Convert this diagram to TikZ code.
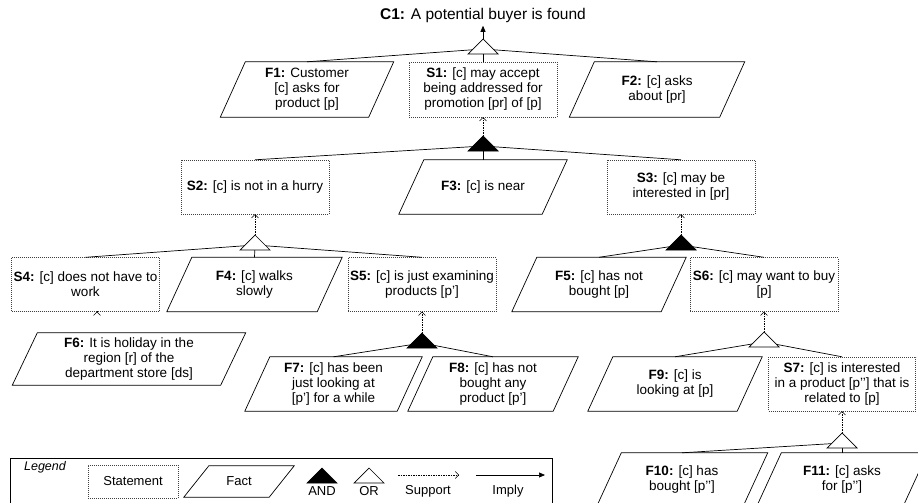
\documentclass[tikz,border=0pt]{standalone}
\usepackage{fontspec}
\setmainfont{Liberation Sans}
\usetikzlibrary{arrows.meta}
\usetikzlibrary{calc}

\newcommand{\factslant}{12.5pt}

\tikzset{
  factslant/.store in=\factslant,
  statement/.style={draw=black!75, dash pattern=on 1pt off 1pt, minimum width=148pt,
    minimum height=54pt, align=center, inner sep=2pt},
  fact/.style={minimum width=#1, minimum height=54pt, align=center, inner sep=2pt,
    append after command={\pgfextra{\let\factnode\tikzlastnode
      \draw[line width=0.7pt] ([xshift=\factslant]\factnode.north west)
        -- ([xshift=\factslant]\factnode.north east)
        -- ([xshift=-\factslant]\factnode.south east)
        -- ([xshift=-\factslant]\factnode.south west) -- cycle;}}},
  fact/.default=148pt,
  link/.style={line width=0.7pt},
  gate/.style={line width=0.7pt},
  support/.style={dash pattern=on 1.5pt off 1pt, -{Straight Barb[length=3.5pt,width=7pt]}},
  imply/.style={line width=0.7pt, -{Triangle[length=6pt,width=5pt]}},
}

\newcommand{\gatetri}[2]{\draw[gate, fill=#2] (#1) -- ++(-15,15) -- ++(30,0) -- cycle;}

\begin{document}
\begin{tikzpicture}[x=1pt, y=-1pt, font=\fontsize{13.5}{15}\selectfont]
    \clip (0,0) rectangle (918,503);

    % claim and first level
    \node[font=\fontsize{15.5}{17}\selectfont] (C1) at (483,15) {\textbf{C1:} A potential buyer is found};
    \node[fact=148pt, minimum height=55pt] (F1) at (307,89.5) {\textbf{F1:} Customer\\{}[c] asks for\\product [p]};
    \node[statement, minimum height=55pt] (S1) at (483,89.5) {\textbf{S1:} [c] may accept\\being addressed for\\promotion [pr] of [p]};
    \node[fact=150pt, minimum height=55pt] (F2) at (657,89.5) {\textbf{F2:} [c] asks\\about [pr]};

    % second level
    \node[statement] (S2) at (255,187) {\textbf{S2:} [c] is not in a hurry};
    \node[fact=143pt] (F3) at (483,187) {\textbf{F3:} [c] is near};
    \node[statement] (S3) at (681,187) {\textbf{S3:} [c] may be\\interested in [pr]};

    % third level
    \node[statement, minimum width=147pt] (S4) at (85.5,284.5) {\textbf{S4:} [c] does not have to\\work};
    \node[fact=150pt] (F4) at (254.5,284.5) {\textbf{F4:} [c] walks\\slowly};
    \node[statement] (S5) at (422,284.5) {\textbf{S5:} [c] is just examining\\products [p’]};
    \node[fact=149pt] (F5) at (599,284.5) {\textbf{F5:} [c] has not\\bought [p]};
    \node[statement] (S6) at (764,284.5) {\textbf{S6:} [c] may want to buy\\{}[p]};

    % fourth level
    \node[fact=208pt, factslant=13pt, minimum height=52pt] (F6) at (129,359) {\textbf{F6:} It is holiday in the\\region [r] of the\\department store [ds]};
    \node[fact=152pt] (F7) at (333.5,384) {\textbf{F7:} [c] has been\\just looking at\\{}[p’] for a while};
    \node[fact=145pt] (F8) at (493,384) {\textbf{F8:} [c] has not\\bought any\\product [p’]};
    \node[fact=149pt] (F9) at (675,384) {\textbf{F9:} [c] is\\looking at [p]};
    \node[statement, minimum width=147pt] (S7) at (842,384) {\textbf{S7:} [c] is interested\\in a product [p’’] that is\\related to [p]};

    % fifth level
    \node[fact=146pt] (F10) at (682,480) {\textbf{F10:} [c] has\\bought [p’’]};
    \node[fact=146pt] (F11) at (842,480) {\textbf{F11:} [c] asks\\for [p’’]};

    % gates
    \coordinate (or1) at (483,39);
    \coordinate (and1) at (483,136);
    \coordinate (or2) at (255,235);
    \coordinate (and2) at (681,235);
    \coordinate (and3) at (422,333);
    \coordinate (or3) at (764,332);
    \coordinate (or4) at (842,433);

    \draw[link] (F1.north) -- ([yshift=-10pt]or1);
    \draw[link] (S1.north) -- ([yshift=-10pt]or1);
    \draw[link] (F2.north) -- ([yshift=-10pt]or1);
    \draw[link] (S2.north) -- ([yshift=-10pt]and1);
    \draw[link] (F3.north) -- ([yshift=-10pt]and1);
    \draw[link] (S3.north) -- ([yshift=-10pt]and1);
    \draw[link] (S4.north) -- ([yshift=-10pt]or2);
    \draw[link] (F4.north) -- ([yshift=-10pt]or2);
    \draw[link] (S5.north) -- ([yshift=-10pt]or2);
    \draw[link] (F5.north) -- ([yshift=-10pt]and2);
    \draw[link] (S6.north) -- ([yshift=-10pt]and2);
    \draw[link] (F7.north) -- ([yshift=-10pt]and3);
    \draw[link] (F8.north) -- ([yshift=-10pt]and3);
    \draw[link] (F9.north) -- ([yshift=-10pt]or3);
    \draw[link] (S7.north) -- ([yshift=-10pt]or3);
    \draw[link] (F10.north) -- ([yshift=-10pt]or4);
    \draw[link] (F11.north) -- ([yshift=-10pt]or4);

    \gatetri{or1}{white}
    \gatetri{and1}{black}
    \gatetri{or2}{white}
    \gatetri{and2}{black}
    \gatetri{and3}{black}
    \gatetri{or3}{white}
    \gatetri{or4}{white}

    \draw[imply] (or1) -- (C1);
    \draw[support] (and1) -- (S1.south);
    \draw[support] (or2) -- (S2.south);
    \draw[support] (and2) -- (S3.south);
    \draw[support] ($(S4.south)+(11.5,0)$ |- F6.north) -- ($(S4.south)+(11.5,0)$);
    \draw[support] (and3) -- (S5.south);
    \draw[support] (or3) -- (S6.south);
    \draw[support] (or4) -- (S7.south);

    % legend
    \node[draw, line width=0.7pt, anchor=north west, minimum width=542pt, minimum height=60pt] (legend) at (10,458) {};
    \node[font=\itshape\fontsize{12.5}{14}\selectfont] (lgd) at (45,467) {Legend};
    \node[statement, minimum width=90pt, minimum height=33pt, font=\fontsize{13}{15}\selectfont] (lstat) at (133,481.5) {Statement};
    \node[fact=85pt, factslant=5.5pt, minimum height=31pt, font=\fontsize{13}{15}\selectfont] (lfact) at (239,481.5) {Fact};
    \coordinate (land) at (322,468);
    \coordinate (lor) at (369,468);
    \gatetri{land}{black}
    \gatetri{lor}{white}
    \node[font=\fontsize{13}{15}\selectfont] (tand) at (322,491) {AND};
    \node[font=\fontsize{13}{15}\selectfont] (tor) at (369,491) {OR};
    \coordinate (sup0) at (398,475);
    \coordinate (sup1) at (459,475);
    \draw[support] (sup0) -- (sup1);
    \node[font=\fontsize{13}{15}\selectfont] (tsup) at (428,491) {Support};
    \coordinate (imp0) at (476,475);
    \coordinate (imp1) at (545,475);
    \draw[imply] (imp0) -- (imp1);
    \node[font=\fontsize{13}{15}\selectfont] (timp) at (508,491) {Imply};
\end{tikzpicture}
\end{document}
